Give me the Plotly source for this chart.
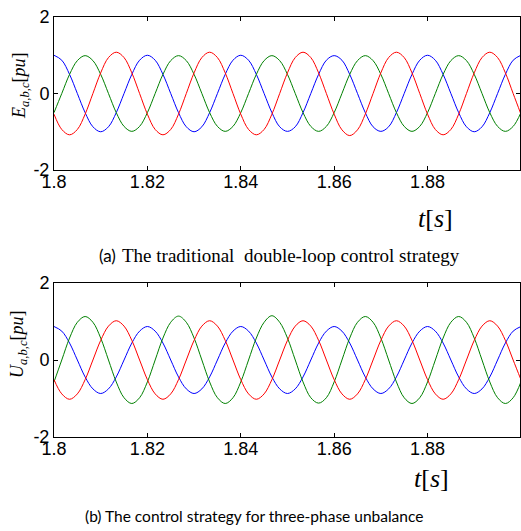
import numpy as np
import plotly.graph_objects as go

# time grid: 1.8 s to 1.9 s, 12 samples per 20 ms cycle
TIME = np.linspace(1.8, 1.9, 61)

# (a) traditional double-loop control: E_a, E_b, E_c [pu]
E_A = [1.00, 0.87, 0.50, 0.00, -0.50, -0.87, -1.00, -0.87, -0.50, 0.00, 0.50, 0.87,
       1.00, 0.87, 0.50, 0.00, -0.50, -0.87, -1.00, -0.87, -0.50, 0.00, 0.50, 0.87,
       1.00, 0.87, 0.50, 0.00, -0.50, -0.87, -0.99, -0.87, -0.50, 0.00, 0.50, 0.87,
       0.99, 0.87, 0.50, 0.00, -0.50, -0.87, -0.99, -0.87, -0.50, 0.00, 0.50, 0.87,
       1.00, 0.87, 0.50, 0.00, -0.50, -0.87, -1.00, -0.87, -0.50, 0.00, 0.50, 0.87,
       1.00]
E_B = [-0.50, 0.00, 0.50, 0.86, 0.99, 0.86, 0.50, 0.00, -0.50, -0.86, -0.99, -0.86,
       -0.50, 0.00, 0.50, 0.86, 0.99, 0.86, 0.50, 0.00, -0.50, -0.86, -0.99, -0.86,
       -0.50, 0.00, 0.50, 0.86, 0.99, 0.86, 0.50, 0.00, -0.50, -0.86, -0.99, -0.86,
       -0.50, 0.00, 0.50, 0.86, 0.99, 0.86, 0.50, 0.00, -0.50, -0.86, -0.99, -0.86,
       -0.50, 0.00, 0.50, 0.86, 0.99, 0.86, 0.50, 0.00, -0.50, -0.86, -0.99, -0.86,
       -0.50]
E_C = [-0.54, -0.94, -1.08, -0.94, -0.54, 0.00, 0.54, 0.94, 1.08, 0.94, 0.54, 0.00,
       -0.54, -0.94, -1.08, -0.94, -0.54, 0.00, 0.54, 0.94, 1.08, 0.94, 0.54, 0.00,
       -0.54, -0.94, -1.08, -0.94, -0.54, 0.00, 0.54, 0.94, 1.08, 0.94, 0.54, 0.00,
       -0.54, -0.95, -1.10, -0.95, -0.54, 0.00, 0.54, 0.94, 1.08, 0.94, 0.54, 0.00,
       -0.54, -0.94, -1.08, -0.94, -0.54, 0.00, 0.54, 0.94, 1.08, 0.94, 0.54, 0.00,
       -0.54]

# (b) control strategy for three-phase unbalance: U_a, U_b, U_c [pu]
U_A = [0.87, 0.75, 0.44, 0.00, -0.44, -0.75, -0.87, -0.75, -0.44, 0.00, 0.44, 0.75,
       0.87, 0.75, 0.44, 0.00, -0.44, -0.75, -0.87, -0.75, -0.44, 0.00, 0.44, 0.75,
       0.87, 0.75, 0.44, 0.00, -0.44, -0.75, -0.87, -0.75, -0.44, 0.00, 0.44, 0.75,
       0.87, 0.75, 0.44, 0.00, -0.44, -0.75, -0.87, -0.75, -0.44, 0.00, 0.44, 0.75,
       0.87, 0.75, 0.44, 0.00, -0.44, -0.75, -0.87, -0.75, -0.44, 0.00, 0.44, 0.75,
       0.87]
U_B = [-0.57, 0.00, 0.57, 0.98, 1.13, 0.98, 0.57, 0.00, -0.57, -0.98, -1.13, -0.98,
       -0.57, 0.00, 0.57, 0.98, 1.14, 0.98, 0.57, 0.00, -0.57, -0.98, -1.13, -0.98,
       -0.57, 0.00, 0.57, 0.98, 1.15, 0.98, 0.57, 0.00, -0.57, -0.98, -1.12, -0.98,
       -0.57, 0.00, 0.57, 0.98, 1.13, 0.98, 0.57, 0.00, -0.57, -0.98, -1.13, -0.98,
       -0.57, 0.00, 0.57, 0.98, 1.13, 0.98, 0.57, 0.00, -0.57, -0.98, -1.13, -0.98,
       -0.57]
U_C = [-0.51, -0.88, -1.02, -0.88, -0.51, 0.00, 0.51, 0.88, 1.02, 0.88, 0.51, 0.00,
       -0.51, -0.88, -1.02, -0.88, -0.51, 0.00, 0.51, 0.88, 1.02, 0.88, 0.51, 0.00,
       -0.51, -0.88, -1.02, -0.88, -0.51, 0.00, 0.51, 0.88, 1.02, 0.88, 0.51, 0.00,
       -0.51, -0.88, -1.02, -0.88, -0.51, 0.00, 0.51, 0.88, 1.02, 0.88, 0.51, 0.00,
       -0.51, -0.88, -1.02, -0.88, -0.51, 0.00, 0.51, 0.88, 1.02, 0.88, 0.51, 0.00,
       -0.51]

X_TICKS = [1.8, 1.82, 1.84, 1.86, 1.88]
X_TICK_LABELS = ["1.8", "1.82", "1.84", "1.86", "1.88"]
Y_TICKS = [-2, 0, 2]
Y_TICK_LABELS = ["-2", "0", "2"]

PHASE_COLORS = ["#0000FF", "#008000", "#FF0000"]

W, H = 521, 531
fig = go.Figure()

for ys, ax in (((E_A, E_B, E_C), ("x", "y")), ((U_A, U_B, U_C), ("x2", "y2"))):
    for vals, col in zip(ys, PHASE_COLORS):
        fig.add_trace(go.Scatter(x=TIME, y=vals, mode="lines",
                                 line=dict(color=col, width=1, shape="spline", smoothing=1.0),
                                 xaxis=ax[0], yaxis=ax[1], showlegend=False,
                                 hoverinfo="skip"))

tick_font = dict(family="Liberation Sans, Arial, sans-serif", size=18, color="black")

def xax(anchor):
    return dict(anchor=anchor, domain=[54 / W, 520 / W], range=[1.8, 1.8998],
                tickvals=X_TICKS, ticktext=X_TICK_LABELS, ticks="inside", ticklen=4,
                tickcolor="black", showline=True, linecolor="black", linewidth=1,
                mirror="ticks", showgrid=False, zeroline=False, tickfont=tick_font,
                automargin=False, ticklabelstandoff=-5)

def yax(anchor, top, bottom):
    return dict(anchor=anchor, domain=[1 - bottom / H, 1 - top / H], range=[-2, 2],
                tickvals=Y_TICKS, ticktext=Y_TICK_LABELS, ticks="inside", ticklen=4,
                tickcolor="black", showline=True, linecolor="black", linewidth=1,
                mirror="ticks", showgrid=False, zeroline=False, tickfont=tick_font,
                automargin=False)

fig.update_layout(
    width=W, height=H, autosize=False,
    margin=dict(l=0, r=0, t=0, b=0, pad=0, autoexpand=False),
    paper_bgcolor="white", plot_bgcolor="white",
    xaxis=xax("y"), yaxis=yax("x", 17, 170),
    xaxis2=xax("y2"), yaxis2=yax("x2", 283, 437),
)

serif = "Liberation Serif"
ann = []
def px(x, y, xanchor="center"):
    return dict(x=x / W, y=1 - y / H, xref="paper", yref="paper", showarrow=False,
                xanchor=xanchor, yanchor="middle")

ann.append(dict(**px(20, 86), textangle=-90,
                text="<i>E</i><sub><i>a,b,c</i></sub>[<i>pu</i>]",
                font=dict(family=serif, size=18, color="black")))
ann.append(dict(**px(18, 345), textangle=-90,
                text="<i>U</i><sub><i>a,b,c</i></sub>[<i>pu</i>]",
                font=dict(family=serif, size=18, color="black")))
ann.append(dict(**px(435, 218), text="<i>t</i>[<i>s</i>]",
                font=dict(family=serif, size=26, color="black")))
ann.append(dict(**px(431, 478), text="<i>t</i>[<i>s</i>]",
                font=dict(family=serif, size=26, color="black")))
ann.append(dict(**px(118, 256, "right"), text="(a)",
                font=dict(family="Lato", size=17, color="black")))
ann.append(dict(**px(120, 256, "left"),
                text="The traditional  double-loop control strategy",
                font=dict(family=serif, size=19, color="black")))
ann.append(dict(**px(254, 516),
                text="(b) The control strategy for three-phase unbalance",
                font=dict(family="Lato", size=15.5, color="black")))
fig.update_layout(annotations=ann)

fig.write_html("out.html", config={"displayModeBar": False},
               post_script="document.body.style.margin='0px';")
